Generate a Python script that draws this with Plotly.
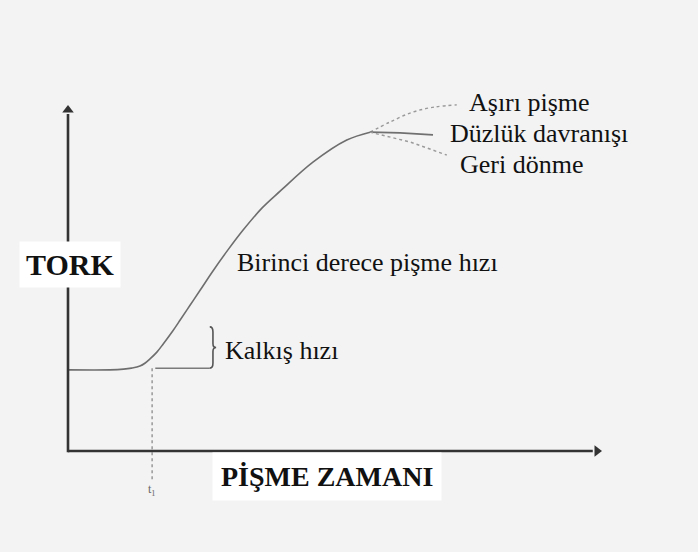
import plotly.graph_objects as go

# Main cure curve (time, torque) in arbitrary units (axis arrows end at 10)
time = [0.0, 0.79, 1.05, 1.20, 1.36, 1.46, 1.55, 1.68, 1.80, 1.98, 2.12, 2.31, 2.50, 2.74,
        3.02, 3.31, 3.67, 4.01, 4.63, 5.27, 5.71]
torque = [2.38, 2.38, 2.40, 2.43, 2.49, 2.58, 2.70, 2.90, 3.14, 3.52, 3.84, 4.28, 4.72, 5.28,
          5.89, 6.48, 7.13, 7.62, 8.47, 9.12, 9.35]

# Branches after the maximum
over_t = [5.71, 6.09, 6.52, 6.94, 7.35]
over_y = [9.35, 9.65, 9.94, 10.09, 10.15]
plat_t = [5.71, 6.28, 6.90]
plat_y = [9.35, 9.33, 9.27]
rev_t = [5.71, 6.47, 7.16]
rev_y = [9.35, 9.06, 8.68]

t1 = 1.59
t1_torque = 2.43

labels = ["Aşırı pişme", "Düzlük davranışı", "Geri dönme"]

PXX = 52.9  # px per x unit
PXY = 34.1  # px per y unit

fig = go.Figure()

curve_col = "#6e6e6e"
fig.add_trace(go.Scatter(x=time, y=torque, mode="lines", line=dict(color=curve_col, width=1.6, shape="spline", smoothing=1.0), hoverinfo="skip"))
fig.add_trace(go.Scatter(x=over_t, y=over_y, mode="lines", line=dict(color="#9a9a9a", width=1.4, dash="dot", shape="spline"), hoverinfo="skip"))
fig.add_trace(go.Scatter(x=plat_t, y=plat_y, mode="lines", line=dict(color="#707070", width=1.6), hoverinfo="skip"))
fig.add_trace(go.Scatter(x=rev_t, y=rev_y, mode="lines", line=dict(color="#9a9a9a", width=1.4, dash="dot"), hoverinfo="skip"))

# t1 dotted vertical line
fig.add_trace(go.Scatter(x=[t1, t1], y=[t1_torque, -0.85], mode="lines", line=dict(color="#8a8a8a", width=1.3, dash="dot"), hoverinfo="skip"))
# horizontal line to brace
brace_x = 2.68
fig.add_trace(go.Scatter(x=[t1 + 0.06, brace_x], y=[t1_torque, t1_torque], mode="lines", line=dict(color="#7a7a7a", width=1.5), hoverinfo="skip"))

# brace path (in data coords)
bt = 3.64  # top of brace
bb = 2.43
bm = (bt + bb) / 2
dx = 0.06
path = (f"M {brace_x},{bt} Q {brace_x+dx},{bt} {brace_x+dx},{bt-0.15} "
        f"L {brace_x+dx},{bm+0.12} Q {brace_x+dx},{bm} {brace_x+2*dx},{bm} "
        f"Q {brace_x+dx},{bm} {brace_x+dx},{bm-0.12} "
        f"L {brace_x+dx},{bb+0.15} Q {brace_x+dx},{bb} {brace_x},{bb}")
fig.add_shape(type="path", path=path, xref="x", yref="y", line=dict(color="#555", width=1.6))

axis_col = "#333333"
axis_end = 10.0
# Axes lines with arrowheads
fig.add_trace(go.Scatter(x=[0, axis_end - 0.08], y=[0, 0], mode="lines", line=dict(color=axis_col, width=2.6), hoverinfo="skip"))
fig.add_trace(go.Scatter(x=[0, 0], y=[-0.04, axis_end - 0.12], mode="lines", line=dict(color=axis_col, width=2.6), hoverinfo="skip"))
fig.add_trace(go.Scatter(x=[axis_end], y=[0], mode="markers", marker=dict(symbol="triangle-right", size=10, color=axis_col), hoverinfo="skip"))
fig.add_trace(go.Scatter(x=[0], y=[axis_end], mode="markers", marker=dict(symbol="triangle-up", size=10, color=axis_col), hoverinfo="skip"))

serif = "Liberation Serif, Times New Roman, serif"
fig.add_annotation(x=0.04, y=5.48, text="<b>TORK</b>", showarrow=False, font=dict(family=serif, size=30, color="#111"),
                   bgcolor="white", borderpad=6)
fig.add_annotation(x=4.90, y=-0.76, text="<b>PİŞME ZAMANI</b>", showarrow=False, font=dict(family=serif, size=28, color="#111"),
                   bgcolor="white", borderpad=8)
fig.add_annotation(x=t1, y=-1.14, text="t<sub>1</sub>", showarrow=False, font=dict(family=serif, size=12, color="#666"))

fig.add_annotation(x=7.54, y=10.23, text=labels[0], xanchor="left", showarrow=False, font=dict(family=serif, size=26, color="#111"))
fig.add_annotation(x=7.18, y=9.30, text=labels[1], xanchor="left", showarrow=False, font=dict(family=serif, size=26, color="#111"))
fig.add_annotation(x=7.37, y=8.39, text=labels[2], xanchor="left", showarrow=False, font=dict(family=serif, size=26, color="#111"))
fig.add_annotation(x=3.16, y=5.54, text="Birinci derece pişme hızı", xanchor="left", showarrow=False, font=dict(family=serif, size=26, color="#111"))
fig.add_annotation(x=2.93, y=2.96, text="Kalkış hızı", xanchor="left", showarrow=False, font=dict(family=serif, size=26, color="#111"))

fig.update_layout(
    width=698, height=552,
    margin=dict(l=0, r=0, t=0, b=0),
    paper_bgcolor="#f3f3f3", plot_bgcolor="#f3f3f3",
    showlegend=False,
    xaxis=dict(range=[-68 / PXX, (698 - 68) / PXX], visible=False, fixedrange=True),
    yaxis=dict(range=[(451 - 552) / PXY, 451 / PXY], visible=False, fixedrange=True),
)

fig.write_html("out.html", config={"displayModeBar": False, "staticPlot": True},
               post_script="document.body.style.margin='0';document.body.style.background='#f3f3f3';")
